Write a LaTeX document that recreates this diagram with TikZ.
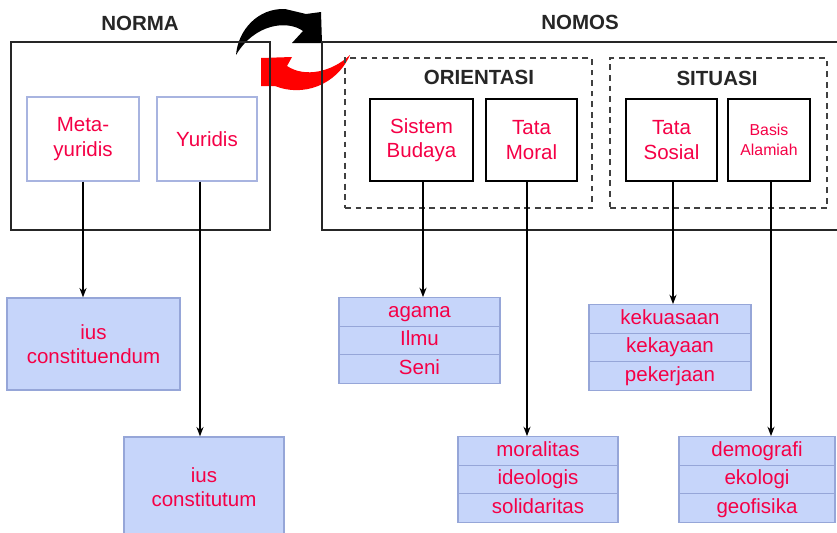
\documentclass[tikz,border=0pt]{standalone}
\usepackage{fontspec}
\setmainfont{Liberation Sans}
\usetikzlibrary{arrows.meta}
\def\pxu{0.03cm}
\definecolor{redt}{RGB}{245,0,70}
\definecolor{bluefill}{RGB}{198,213,250}
\definecolor{bluebord}{RGB}{150,166,216}
\definecolor{lightbord}{RGB}{168,180,224}
\tikzset{
  title/.style={font=\fontsize{17.5}{20}\selectfont\bfseries, text=black!85, inner sep=0pt},
  redtxt/.style={text=redt, font=\fontsize{17.5}{21}\selectfont, align=center},
  normbox/.style={draw=lightbord, line width=0.9pt, fill=white, redtxt, inner sep=0pt},
  blackbox/.style={draw=black, line width=1.2pt, fill=white, redtxt, inner sep=0pt},
  bigbox/.style={draw=black!85, line width=1.4pt, inner sep=0pt},
  dashbox/.style={draw=black!75, line width=1.5pt, dash pattern=on 5pt off 4pt, inner sep=0pt},
  item/.style={draw=bluebord, fill=bluefill, line width=1.1pt, redtxt, minimum width=#1*\pxu, minimum height=28.5*\pxu, inner sep=0pt, text height=12.5pt, text depth=3.5pt},
  bigitem/.style={draw=bluebord, fill=bluefill, line width=1.1pt, redtxt, inner sep=0pt},
  arr/.style={-{Stealth[length=8pt,width=6pt]}, line width=1.4pt},
}
\begin{document}
\begin{tikzpicture}[x=0.03cm,y=-0.03cm]
\useasboundingbox (0,0) rectangle (837,533);
\clip (0,0) rectangle (837,533);

% curved arrows
\fill[black] (236,55) .. controls (238,30) and (258,8) .. (285,9)
  -- (306,14) -- (321,12) -- (322,43) -- (292,43) -- (303,31)
  .. controls (288,20) and (255,23) .. (236,55) -- cycle;
\fill[red] (350,55) .. controls (336,86) and (302,97) .. (275,86)
  -- (261,86) -- (261,58) -- (292,57) -- (287,66)
  .. controls (305,78) and (332,72) .. (350,55) -- cycle;

% NORMA
\node[bigbox, minimum width=259*\pxu, minimum height=188*\pxu] (norma) at (140.5,136) {};
\node[title] (normaT) at (140,23) {NORMA};
\node[normbox, minimum width=112*\pxu, minimum height=84*\pxu] (meta) at (83,139) {Meta-\\yuridis};
\node[normbox, minimum width=100*\pxu, minimum height=84*\pxu] (yur) at (207,139) {Yuridis};

% NOMOS
\node[bigbox, minimum width=530*\pxu, minimum height=188*\pxu] (nomos) at (587,136) {};
\node[title] (nomosT) at (580,22) {NOMOS};
\node[dashbox, minimum width=247*\pxu, minimum height=150*\pxu] (orient) at (468.5,133) {};
\node[title] (orientT) at (479,77) {ORIENTASI};
\node[dashbox, minimum width=217*\pxu, minimum height=150*\pxu] (situ) at (718.5,133) {};
\node[title] (situT) at (717,78) {SITUASI};

\node[blackbox, minimum width=103*\pxu, minimum height=82*\pxu] (sb) at (421.5,140) {Sistem\\Budaya};
\node[blackbox, minimum width=91*\pxu, minimum height=82*\pxu] (tm) at (531.5,140) {Tata\\Moral};
\node[blackbox, minimum width=91*\pxu, minimum height=82*\pxu] (ts) at (671.5,140) {Tata\\Sosial};
\node[blackbox, minimum width=82*\pxu, minimum height=82*\pxu, font=\fontsize{13.5}{17}\selectfont] (ba) at (769,140) {Basis\\Alamiah};

% bottom boxes
\node[bigitem, minimum width=173*\pxu, minimum height=92*\pxu] (iusA) at (93.5,344) {ius\\constituendum};
\node[bigitem, minimum width=160*\pxu, minimum height=100*\pxu] (iusB) at (204,487) {ius\\constitutum};

\node[item=161] (ag) at (419.5,312) {agama};
\node[item=161] (il) at (419.5,340.5) {Ilmu};
\node[item=161] (se) at (419.5,369) {Seni};

\node[item=162] (ke1) at (670,319) {kekuasaan};
\node[item=162] (ke2) at (670,347.5) {kekayaan};
\node[item=162] (pe) at (670,376) {pekerjaan};

\node[item=160] (mo) at (538,451) {moralitas};
\node[item=160] (id) at (538,479.5) {ideologis};
\node[item=160] (so) at (538,508) {solidaritas};

\node[item=156] (de) at (757,451) {demografi};
\node[item=156] (ek) at (757,479.5) {ekologi};
\node[item=156] (ge) at (757,508) {geofisika};

% connectors
\draw[arr] (meta.south) -- (meta.south |- iusA.north);
\draw[arr] ([xshift=-7*\pxu]yur.south) -- ([xshift=-4*\pxu]iusB.north);
\draw[arr] ([xshift=1.5*\pxu]sb.south) -- ([xshift=3.5*\pxu]ag.north);
\draw[arr] ([xshift=-4.5*\pxu]tm.south) -- ([xshift=-11*\pxu]mo.north);
\draw[arr] ([xshift=1.5*\pxu]ts.south) -- ([xshift=3*\pxu]ke1.north);
\draw[arr] ([xshift=2*\pxu]ba.south) -- ([xshift=14*\pxu]de.north);
\end{tikzpicture}
\end{document}
